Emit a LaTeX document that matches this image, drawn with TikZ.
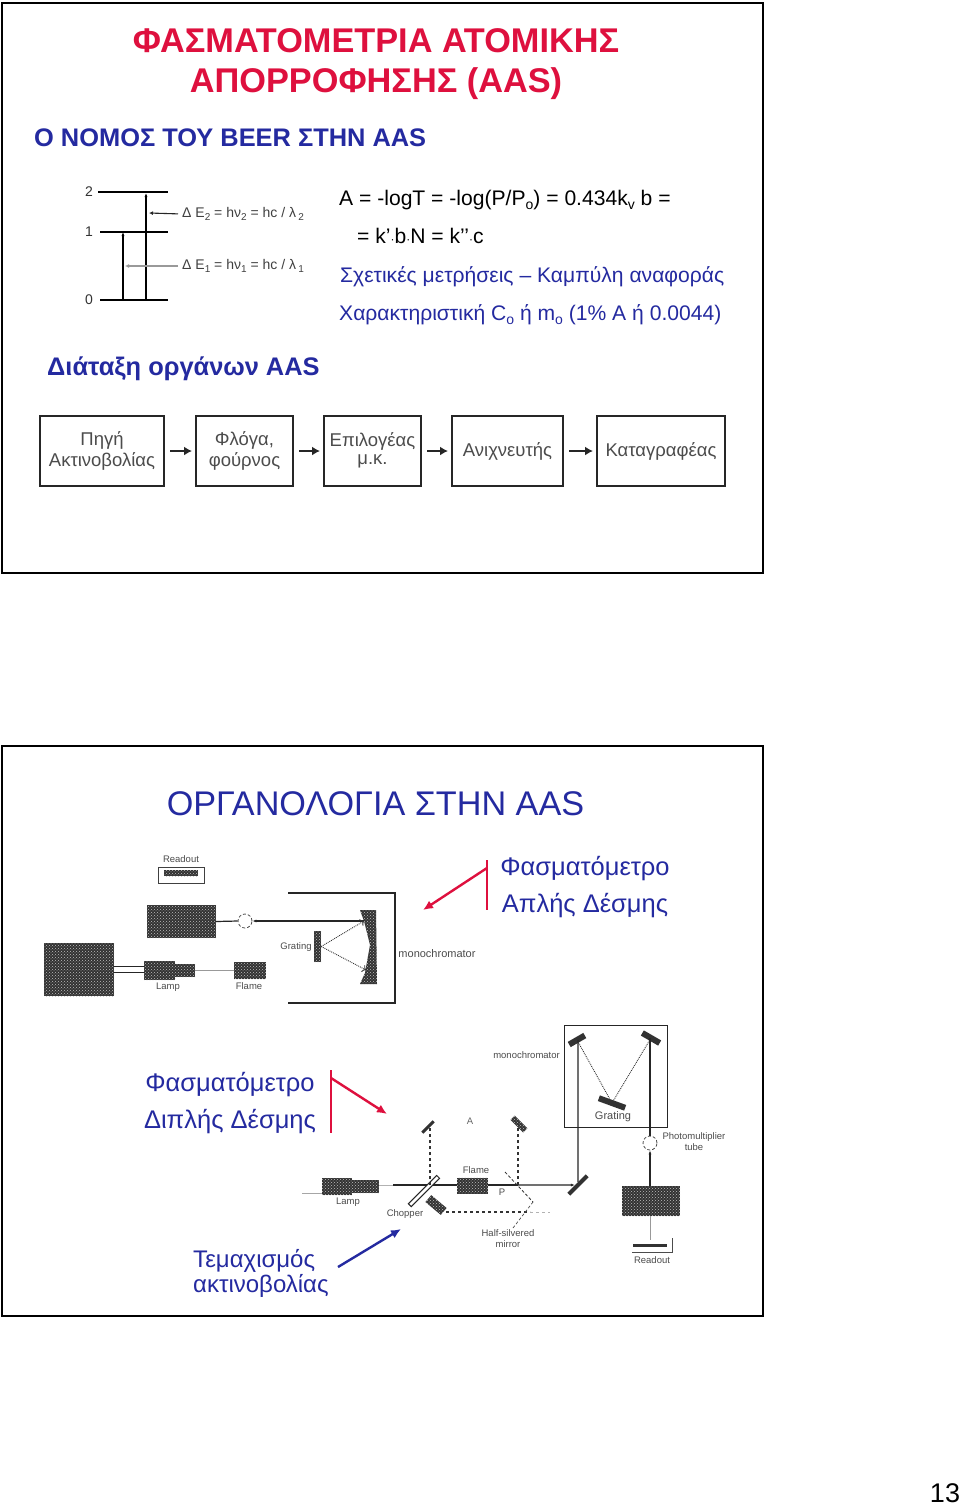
\documentclass[tikz,border=0pt]{standalone}
\usepackage{fontspec}
\setmainfont{Liberation Sans}
\usetikzlibrary{arrows.meta,patterns}
\definecolor{titlered}{RGB}{222,16,62}
\definecolor{slideblue}{RGB}{36,42,160}
\definecolor{scan}{RGB}{50,50,50}
\newcommand{\lowsub}[1]{\raisebox{-4pt}{\fontsize{14}{14}\selectfont #1}}
\newcommand{\tinysub}[1]{\raisebox{-3pt}{\fontsize{10}{10}\selectfont #1}}
\newcommand{\smalldot}{{\fontsize{12}{12}\selectfont ·}}
\tikzset{
 frame/.style={draw=black,line width=2pt,fill=white},
 title/.style={font=\bfseries\fontsize{34.3}{40}\selectfont,text=titlered,inner sep=0,anchor=base},
 subhead/.style={font=\bfseries\fontsize{25.4}{30}\selectfont,text=slideblue,inner sep=0,anchor=base west},
 eq/.style={font=\fontsize{21.1}{26}\selectfont,text=black,inner sep=0,anchor=base west},
 eqb/.style={eq,text=slideblue},
 big/.style={font=\fontsize{34.2}{42}\selectfont,text=slideblue,inner sep=0,anchor=base},
 mid/.style={font=\fontsize{25.5}{30}\selectfont,text=slideblue,inner sep=0,anchor=base},
 midsmall/.style={font=\fontsize{24}{28}\selectfont,text=slideblue,inner sep=0,anchor=base west},
 flowbox/.style={draw=black!85,line width=2pt,fill=white,minimum height=70pt,inner sep=0,font=\fontsize{18.5}{21}\selectfont,text=black!70,align=center},
 flowarrow/.style={-{Latex[length=8pt,width=9pt]},line width=2pt,draw=black!85},
 scantext/.style={font=\fontsize{9.5}{11}\selectfont,text=black!70,inner sep=0,align=center},
 level/.style={line width=1.3pt,draw=black},
 beam/.style={line width=1.2pt,draw=black!85},
 dashbeam/.style={line width=1.2pt,draw=black!80,dashed},
 dotbeam/.style={line width=.9pt,draw=black!80,densely dotted},
 dark/.style={fill=scan,draw=none,inner sep=0,postaction={pattern=crosshatch dots,pattern color=white!75!black}},
 mirror/.style={fill=scan,draw=none,inner sep=0},
 redarrow/.style={draw=titlered,line width=2.4pt,-{Latex[length=10pt,width=9pt]}},
 redbar/.style={draw=titlered,line width=2.4pt},
 bluearrow/.style={draw=slideblue,line width=2.4pt,-{Latex[length=10pt,width=9pt]}},
 pmt/.style={circle,draw=black!70,densely dashed,line width=.8pt,minimum size=14pt,inner sep=0},
 deltalabel/.style={font=\fontsize{14}{14}\selectfont,text=black!75,inner sep=0,anchor=west},
}
\begin{document}
\begin{tikzpicture}[x=1pt,y=-1pt]
\useasboundingbox (0,0) rectangle (960,1505);
\fill[white] (0,0) rectangle (960,1505);
% slide 1
\draw[frame] (2,3) rectangle (763,573);
\node[title] (t1) at (376,52) {ΦΑΣΜΑΤΟΜΕΤΡΙΑ ΑΤΟΜΙΚΗΣ};
\node[title] (t2) at (376,92.5) {ΑΠΟΡΡΟΦΗΣΗΣ (AAS)};
\node[subhead] (s1) at (34,146) {Ο ΝΟΜΟΣ ΤΟΥ BEER ΣΤΗΝ AAS};
\node[subhead] (s2) at (47,375) {Διάταξη οργάνων AAS};
% energy levels
\foreach \n/\y/\xa in {2/192/98,1/232/100,0/300/100}{
 \coordinate (la\n) at (\xa,\y);
 \coordinate (lb\n) at (168,\y);
 \draw[level] (la\n) -- (lb\n);
 \node[font=\fontsize{14}{14}\selectfont,text=black!80,inner sep=0] (ln\n) at (89,\y) {\n};
}
\coordinate (v1a) at (123,232); \coordinate (v1b) at (123,300);
\coordinate (v2a) at (146,193); \coordinate (v2b) at (146,300);
\draw[level,-{Latex[length=4pt,width=3pt]}] (v1b) -- (v1a);
\draw[level,-{Latex[length=4pt,width=3pt]}] (v2b) -- (v2a);
\node[deltalabel] (d2) at (182,214) {Δ E\tinysub{2} = hν\tinysub{2} = hc / λ\,\tinysub{2}};
\node[deltalabel] (d1) at (182,266) {Δ E\tinysub{1} = hν\tinysub{1} = hc / λ\,\tinysub{1}};
\coordinate (p2) at (149,213); \coordinate (p1) at (125,266);
\draw[line width=1.1pt,draw=black!85,-{Latex[length=4pt,width=4pt]},shorten <=4pt] (d2.west) -- (p2);
\draw[line width=1.1pt,draw=black!40,-{Latex[length=4pt,width=4pt]},shorten <=4pt] (d1.west) -- (p1);
% equations
\node[eq] (e1) at (339,205) {A = -logT = -log(P/P\lowsub{o}) = 0.434k\lowsub{v} b =};
\node[eq] (e2) at (357,243) {= k’\smalldot b\smalldot N = k’’\smalldot c};
\node[eqb] (e3) at (340,282) {Σχετικές μετρήσεις – Καμπύλη αναφοράς};
\node[eqb] (e4) at (339,320) {Χαρακτηριστική C\lowsub{o} ή m\lowsub{o} (1\% A ή 0.0044)};
% flow
\node[flowbox,minimum width=124pt] (f1) at (102,451) {Πηγή\\Ακτινοβολίας};
\node[flowbox,minimum width=97pt] (f2) at (244.5,451) {Φλόγα,\\φούρνος};
\node[flowbox,minimum width=97pt] (f3) at (372.5,451) {\raisebox{3pt}{\begin{tabular}{@{}c@{}}Επιλογέας\\[-3pt]μ.κ.\end{tabular}}};
\node[flowbox,minimum width=111pt] (f4) at (507.5,451) {Ανιχνευτής};
\node[flowbox,minimum width=128pt] (f5) at (661,451) {Καταγραφέας};
\foreach \a/\b in {f1/f2,f2/f3,f3/f4,f4/f5}{
 \draw[flowarrow,shorten <=5pt,shorten >=3pt] (\a) -- (\b);
}
% slide 2
\draw[frame] (2,746) rectangle (763,1316);
\node[big] (t3) at (375.5,815) {ΟΡΓΑΝΟΛΟΓΙΑ ΣΤΗΝ AAS};
\node[mid] (a1) at (585,875) {Φασματόμετρο};
\node[mid] (a2) at (585,912) {Απλής Δέσμης};
\node[mid] (b1) at (230,1091) {Φασματόμετρο};
\node[mid] (b2) at (230,1128) {Διπλής Δέσμης};
\node[midsmall] (c1) at (193,1267) {Τεμαχισμός};
\node[midsmall] (c2) at (193,1292) {ακτινοβολίας};
% single beam diagram
\node[scantext] (ro) at (181,859) {Readout};
\node[draw=black!75,line width=1pt,minimum width=46pt,minimum height=16pt,inner sep=0] (robox) at (181,875) {};
\node[dark,minimum width=34pt,minimum height=6pt] (robar) at (181,873) {};
\node[dark,minimum width=69pt,minimum height=33pt] (amp) at (181.5,921.5) {};
\node[dark,minimum width=70pt,minimum height=53pt] (ps) at (79,969.5) {};
\node[dark,minimum width=31pt,minimum height=19pt] (lamp) at (159.5,970.5) {};
\node[dark,minimum width=20pt,minimum height=13pt] (lampb) at (185,970.5) {};
\node[scantext] (lampl) at (168,987) {Lamp};
\node[dark,minimum width=32pt,minimum height=17pt] (flame) at (250,970.5) {};
\node[scantext] (flamel) at (249,986) {Flame};
\node[pmt] (pm) at (245,921) {};
\node[dark,minimum width=7pt,minimum height=31pt] (gr) at (317.5,946.5) {};
\node[scantext] (grl) at (296,947) {Grating};
\node[scantext,font=\fontsize{11}{12}\selectfont] (mono) at (437,954) {monochromator};
\path[fill=scan,postaction={pattern=crosshatch dots,pattern color=white!75!black}] (360,910) -- (376,910) -- (377,984) -- (360,984) -- (365,973) -- (370,945) -- (364,921) -- cycle;
\coordinate (m1) at (364,921); \coordinate (m2) at (366,970);
\draw[beam] (amp.east) -- (pm.west);
\draw[beam,line width=1.6pt,-{Latex[length=4pt,width=3pt]}] (m1) -- (pm.east);
\draw[dotbeam,->] (gr.east) -- (m1);
\draw[dotbeam,->] (gr.east) -- (m2);
\draw[beam] ([yshift=-3pt]ps.east) -- ([yshift=-3pt]ps.east -| lamp.west);
\draw[beam] ([yshift=3pt]ps.east) -- ([yshift=3pt]ps.east -| lamp.west);
\draw[line width=.8pt,draw=black!40] (lampb.east) -- (flame.west);
\coordinate (ma) at (288,893); \coordinate (mb) at (395,893); \coordinate (mc) at (395,1003); \coordinate (md) at (288,1003);
\draw[line width=1.2pt,draw=black!85] (ma) -- (mb) -- (mc) -- (md);
% red markers
\coordinate (rt) at (487,860); \coordinate (rb) at (487,910); \coordinate (rj) at (487,868); \coordinate (rh) at (423,910);
\draw[redbar] (rt) -- (rb);
\draw[redarrow] (rj) -- (rh);
\coordinate (qt) at (331,1070); \coordinate (qb) at (331,1133); \coordinate (qj) at (331,1078); \coordinate (qh) at (387,1114);
\draw[redbar] (qt) -- (qb);
\draw[redarrow] (qj) -- (qh);
\coordinate (bt) at (338,1267); \coordinate (bh) at (401,1229);
\draw[bluearrow] (bt) -- (bh);
% double beam diagram
\node[draw=black!85,line width=1pt,minimum width=103pt,minimum height=102pt,inner sep=0] (mbox) at (615.5,1076) {};
\node[scantext,anchor=east] (mbl) at (560,1055) {monochromator};
\node[mirror,minimum width=18pt,minimum height=6pt,rotate=30] (mr1) at (577,1040) {};
\node[mirror,minimum width=20pt,minimum height=6pt,rotate=-30] (mr2) at (651,1038) {};
\node[mirror,minimum width=28pt,minimum height=6pt,rotate=-20] (gr2) at (612,1103) {};
\node[scantext,font=\fontsize{11}{12}\selectfont] (gr2l) at (613,1117) {Grating};
\node[dark,minimum width=30pt,minimum height=17pt] (lamp2) at (337,1186.5) {};
\node[dark,minimum width=27pt,minimum height=13pt] (lamp2b) at (365.5,1186.5) {};
\coordinate (lf) at (302,1193);
\draw[line width=.6pt,draw=black!35] (lf) -- (lf -| lamp2.west);
\node[scantext] (lamp2l) at (348,1202) {Lamp};
\node[dark,minimum width=31pt,minimum height=16pt] (flame2) at (472.5,1185.5) {};
\node[scantext] (flame2l) at (476,1170) {Flame};
\node[mirror,minimum width=26pt,minimum height=4pt,rotate=45] (lm) at (578,1185) {};
\node[pmt] (pm2) at (650,1143) {};
\node[scantext,align=center] (pm2l) at (694,1142) {Photomultiplier\\tube};
\node[dark,minimum width=58pt,minimum height=30pt] (lock) at (651,1201) {};
\node[mirror,minimum width=34pt,minimum height=3pt] (rbar) at (650,1245) {};
\coordinate (rl) at (632,1252); \coordinate (rr) at (672,1252); \coordinate (rc) at (672,1238); \coordinate (rm) at (650,1240);
\draw[line width=.8pt,draw=black!70] (rl) -- (rr) -- (rc);
\node[scantext] (rol) at (652,1260) {Readout};
\draw[line width=.8pt,draw=black!40] (lock.south -| rm) -- (rm);
\coordinate (xa) at (430,1185); \coordinate (xb) at (518,1185);
\coordinate (cs) at (446,1212); \coordinate (hs) at (530,1212); \coordinate (he) at (550,1212);
\draw[line width=.7pt,draw=black!30] (lamp2b.east) ++(0,-1.5) -- (393,1185);
\draw[beam] (393,1185) coordinate (bs) -- (xa);
\draw[beam] (xa) -- (xa -| flame2.west);
\draw[beam] (flame2.east |- xb) -- (xb);
\draw[beam,-{Latex[length=4pt,width=3pt]}] (xb) -- (lm);
\node[draw=black!85,fill=white,line width=1pt,minimum width=40pt,minimum height=4pt,inner sep=0,rotate=45] (ch) at (424,1191) {};
\node[dark,minimum width=20pt,minimum height=9pt,rotate=-40] (cm) at (436,1205) {};
\node[scantext] (chl) at (405,1214) {Chopper};
\node[mirror,minimum width=16pt,minimum height=3pt,rotate=45] (um1) at (428,1127) {};
\node[dark,minimum width=18pt,minimum height=6pt,rotate=-45] (um2) at (519,1124) {};
\node[scantext] (pl) at (502,1192) {P};
\node[scantext,text=black!60] (al) at (470,1121) {A};
\coordinate (hm1) at (505,1172); \coordinate (hm2) at (533,1202);
\draw[line width=.8pt,draw=black!80,densely dashed] (hm1) -- (hm2);
\draw[dashbeam] (xa) -- (xa |- um1);
\draw[dashbeam] (xb) -- (xb |- um2);
\draw[dashbeam] (cs) -- (hs);
\draw[line width=.8pt,draw=black!30,dashed] (hs) -- (he);
\draw[beam] (lm) -- (lm |- mr1);
\draw[beam,-{Latex[length=4pt,width=3pt]}] (lock.north -| pm2) -- (pm2);
\draw[beam] (pm2) -- (pm2 |- mr2);
\draw[dotbeam] (mr1) -- (gr2);
\draw[dotbeam] (gr2) -- (mr2);
\node[scantext] (hl) at (508,1239) {Half-silvered\\mirror};
\draw[line width=.7pt,draw=black!70,densely dashed] (513,1228) coordinate (hq) -- (hm2);
% page number
\node[font=\fontsize{27}{30}\selectfont,text=black,inner sep=0,anchor=base] (pn) at (945,1502) {13};
\end{tikzpicture}
\end{document}
